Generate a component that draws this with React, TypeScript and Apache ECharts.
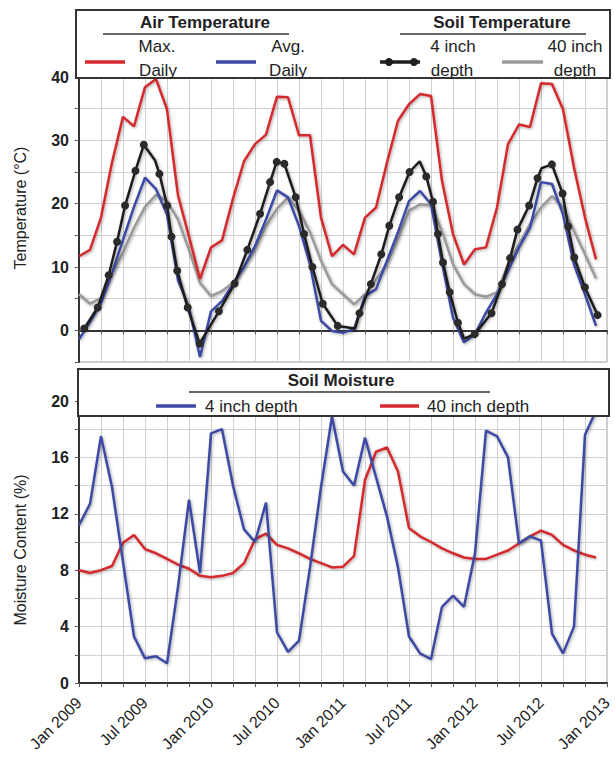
import React, { useEffect, useRef } from "react";
import * as echarts from "echarts";

// Months since Jan 2009 (0 = Jan 2009, 48 = Jan 2013)
const monthIndex: number[] = Array.from({ length: 48 }, (_, i) => i);
const tickLabels: string[] = [
  "Jan 2009", "Jul 2009", "Jan 2010", "Jul 2010", "Jan 2011",
  "Jul 2011", "Jan 2012", "Jul 2012", "Jan 2013",
];

// Air temperature, monthly (°C)
const airMaxDaily: number[] = [
  11.7, 12.7, 17.8, 26.5, 33.7, 32.2, 38.4, 39.7, 34.9, 21.3, 14.8, 8.1,
  13.1, 14.2, 20.8, 26.7, 29.4, 30.9, 36.9, 36.8, 30.8, 30.8, 17.8, 11.7,
  13.5, 12.0, 17.8, 19.4, 26.5, 33.1, 35.7, 37.3, 37.0, 23.6, 15.2, 10.4,
  12.8, 13.1, 19.4, 29.4, 32.5, 32.1, 39.0, 38.9, 34.9, 25.7, 17.8, 11.2,
];
const airAvgDaily: number[] = [
  -1.4, 1.3, 4.3, 9.0, 14.3, 19.5, 24.1, 22.3, 18.3, 7.9, 3.6, -4.2,
  3.0, 4.6, 7.3, 10.0, 13.3, 17.5, 22.1, 21.0, 16.5, 10.4, 1.5, -0.1,
  -0.4, 0.2, 5.4, 6.5, 11.0, 15.5, 20.4, 22.0, 19.9, 10.7, 2.0, -1.9,
  -0.6, 2.8, 5.7, 9.4, 13.1, 16.2, 23.4, 23.1, 18.3, 10.4, 5.7, 0.7,
];
// Soil temperature 40 inch depth, monthly (°C)
const soil40Temp: number[] = [
  5.7, 4.2, 5.1, 8.9, 12.3, 16.2, 19.5, 21.4, 20.4, 17.5, 12.7, 7.5,
  5.4, 6.2, 7.5, 10.0, 12.8, 16.5, 19.2, 21.0, 18.9, 15.5, 11.0, 7.3,
  5.7, 4.1, 5.7, 8.0, 10.5, 14.5, 18.9, 19.9, 19.7, 15.7, 10.4, 7.3,
  5.7, 5.3, 6.0, 10.4, 13.6, 16.8, 19.4, 21.2, 19.4, 15.7, 12.0, 8.2,
];
// Soil temperature 4 inch depth, irregular measurement dates
const soil4Months: number[] = [
  0.48, 1.7, 2.7, 3.46, 4.19, 5.13, 5.89, 6.92, 7.31, 8.01, 8.41, 8.93, 9.88,
  10.96, 12.72, 14.15, 15.3, 16.46, 17.37, 17.97, 18.67, 19.7, 20.46, 21.22,
  22.16, 23.52, 25.1, 25.5, 26.53, 27.48, 28.21, 29.1, 30.05, 30.97, 31.57,
  32.18, 32.63, 33.09, 33.7, 34.45, 35.0, 35.97, 37.5, 38.46, 39.19, 39.86,
  40.92, 41.68, 42.05, 42.99, 43.96, 44.47, 45.02, 45.99, 47.15,
];
const soil4Temp: number[] = [
  0.3, 3.6, 8.7, 14.0, 19.7, 25.2, 29.3, 26.8, 24.7, 19.7, 14.8, 9.4, 3.6,
  -2.1, 3.0, 7.4, 12.7, 18.4, 23.4, 26.6, 26.3, 21.0, 15.2, 10.0,
  4.2, 0.7, 0.3, 2.7, 7.3, 12.0, 16.5, 21.0, 25.0, 26.7, 24.3,
  20.3, 15.2, 10.7, 6.0, 1.2, -1.3, -0.6, 2.7, 7.3, 11.4, 15.9,
  19.7, 24.0, 25.6, 26.2, 21.6, 16.4, 11.5, 6.8, 2.4,
];
const soil4Dot: boolean[] = soil4Months.map(
  (m) => ![6.92, 25.1, 30.97, 35.0, 42.05].includes(m)
);

// Soil moisture, monthly (%)
const moisture4: number[] = [
  11.2, 12.7, 17.5, 13.9, 8.6, 3.3, 1.75, 1.9, 1.4, 6.8, 13.0, 7.8,
  17.7, 18.0, 14.0, 10.9, 10.0, 12.8, 3.6, 2.2, 3.0, 8.2, 13.9, 18.9,
  15.0, 14.0, 17.4, 14.6, 11.8, 8.2, 3.3, 2.1, 1.7, 5.4, 6.2, 5.4,
  9.2, 17.9, 17.5, 16.0, 9.9, 10.4, 10.1, 3.5, 2.1, 4.0, 17.6, 19.3,
];
const moisture40: number[] = [
  8.0, 7.8, 8.0, 8.3, 9.95, 10.5, 9.5, 9.2, 8.8, 8.4, 8.1, 7.6,
  7.5, 7.6, 7.8, 8.5, 10.2, 10.6, 9.8, 9.55, 9.2, 8.8, 8.5, 8.2,
  8.25, 9.0, 14.4, 16.4, 16.7, 15.0, 11.0, 10.4, 10.0, 9.55, 9.2, 8.9,
  8.8, 8.8, 9.1, 9.4, 9.9, 10.4, 10.8, 10.5, 9.8, 9.4, 9.1, 8.9,
];

const RED = "#d42a2f";
const BLUE = "#3d4aa3";
const BLACK = "#1e1e1e";
const GRAY = "#9a9a9a";
const FONT = "'Liberation Sans', Arial, Helvetica, sans-serif";
const TXT = "#222";
const TOPZ = 1000;

const shadow = {
  shadowColor: "rgba(0,0,0,0.35)",
  shadowBlur: 3,
  shadowOffsetX: 1,
  shadowOffsetY: 1,
};

export default function App() {
  const ref = useRef<HTMLDivElement>(null);
  useEffect(() => {
    if (!ref.current) return;
    const chart = echarts.init(ref.current, undefined, { renderer: "svg" });

    const monthly = (vals: number[]) => monthIndex.map((m, i) => [m, vals[i]]);
    const soil4Data = soil4Months.map((m, i) => ({
      value: [m, soil4Temp[i]],
      symbol: soil4Dot[i] ? "circle" : "none",
    }));

    const xAxisBase = (gridIndex: number, showLabels: boolean) => ({
      type: "value",
      gridIndex,
      min: 0,
      max: 48,
      interval: 2,
      axisLine: { show: true, lineStyle: { color: "#333", width: 2 } },
      axisTick: { show: true, length: 4, lineStyle: { color: "#555" } },
      splitLine: { show: true, lineStyle: { color: "#d0d0d0", width: 1 } },
      axisLabel: {
        show: showLabels,
        rotate: 45,
        margin: 17,
        fontSize: 16,
        color: TXT,
        fontFamily: FONT,
        formatter: (v: number) => (v % 6 === 0 ? tickLabels[v / 6] : ""),
      },
    });

    const yText = { fontSize: 16, fontWeight: "bold", color: TXT, fontFamily: FONT };

    const lineItem = (x1: number, x2: number, y: number, color: string) => ({
      type: "line",
      z: TOPZ + 1,
      shape: { x1, y1: y, x2, y2: y },
      style: { stroke: color, lineWidth: 3.5 },
    });
    const hr = (x1: number, x2: number, y: number) => ({
      type: "line",
      z: TOPZ + 1,
      shape: { x1, y1: y, x2, y2: y },
      style: { stroke: "#333", lineWidth: 1.5 },
    });
    const txt = (
      text: string,
      x: number,
      y: number,
      opts: { bold?: boolean; align?: string; size?: number; rotation?: number } = {}
    ) => ({
      type: "text",
      z: TOPZ + 2,
      x,
      y,
      rotation: opts.rotation || 0,
      style: {
        text,
        fill: TXT,
        font: `${opts.bold ? "bold " : ""}${opts.size || 17}px ${FONT}`,
        align: opts.align || "center",
        verticalAlign: "middle",
      },
    });
    const dot = (cx: number, cy: number) => ({
      type: "circle",
      z: TOPZ + 2,
      shape: { cx, cy, r: 4 },
      style: { fill: BLACK },
    });
    const box = (x: number, y: number, width: number, height: number) => ({
      type: "rect",
      z: TOPZ,
      shape: { x, y, width, height },
      style: { fill: "#fff", stroke: "#333", lineWidth: 2 },
    });

    chart.setOption({
      animation: false,
      backgroundColor: "#fff",
      grid: [
        { left: 79, top: 77, width: 528, height: 285, show: true, borderColor: "#999", borderWidth: 1 },
        { left: 79, top: 401, width: 528, height: 282, show: true, borderColor: "#999", borderWidth: 1 },
      ],
      xAxis: [xAxisBase(0, false), xAxisBase(1, true)],
      yAxis: [
        {
          type: "value",
          gridIndex: 0,
          min: -5,
          max: 40,
          interval: 5,
          axisLine: { show: true, lineStyle: { color: "#333", width: 2 } },
          axisTick: { show: true, length: 4, lineStyle: { color: "#555" } },
          splitLine: { show: true, lineStyle: { color: "#d0d0d0", width: 1 } },
          axisLabel: {
            ...yText,
            margin: 10,
            formatter: (v: number) => (v % 10 === 0 ? String(v) : ""),
          },
        },
        {
          type: "value",
          gridIndex: 1,
          min: 0,
          max: 20,
          interval: 2,
          axisLine: { show: true, lineStyle: { color: "#333", width: 2 } },
          axisTick: { show: true, length: 4, lineStyle: { color: "#555" } },
          splitLine: { show: true, lineStyle: { color: "#d0d0d0", width: 1 } },
          axisLabel: {
            ...yText,
            margin: 10,
            formatter: (v: number) => (v % 4 === 0 ? String(v) : ""),
          },
        },
      ],
      series: [
        {
          name: "Soil 40 inch",
          type: "line",
          xAxisIndex: 0,
          yAxisIndex: 0,
          data: monthly(soil40Temp),
          showSymbol: false,
          lineStyle: { color: GRAY, width: 2.5, ...shadow },
          itemStyle: { color: GRAY },
        },
        {
          name: "Max. Daily",
          type: "line",
          xAxisIndex: 0,
          yAxisIndex: 0,
          data: monthly(airMaxDaily),
          showSymbol: false,
          lineStyle: { color: RED, width: 2.5, ...shadow },
          itemStyle: { color: RED },
        },
        {
          name: "Avg. Daily",
          type: "line",
          xAxisIndex: 0,
          yAxisIndex: 0,
          data: monthly(airAvgDaily),
          showSymbol: false,
          lineStyle: { color: BLUE, width: 2.5, ...shadow },
          itemStyle: { color: BLUE },
        },
        {
          name: "Soil 4 inch",
          type: "line",
          xAxisIndex: 0,
          yAxisIndex: 0,
          data: soil4Data,
          symbolSize: 8,
          lineStyle: { color: BLACK, width: 2.5, ...shadow },
          itemStyle: { color: "#2a2a2a", borderWidth: 0 },
        },
        {
          name: "Moisture 40 inch",
          type: "line",
          xAxisIndex: 1,
          yAxisIndex: 1,
          data: monthly(moisture40),
          showSymbol: false,
          lineStyle: { color: RED, width: 2.5, ...shadow },
          itemStyle: { color: RED },
        },
        {
          name: "Moisture 4 inch",
          type: "line",
          xAxisIndex: 1,
          yAxisIndex: 1,
          data: monthly(moisture4),
          showSymbol: false,
          lineStyle: { color: BLUE, width: 2.5, ...shadow },
          itemStyle: { color: BLUE },
        },
      ],
      graphic: [
        // top legend box
        box(76, 10, 534, 68),
        txt("Air Temperature", 205, 22, { bold: true }),
        hr(103, 289, 34),
        txt("Soil Temperature", 502, 22, { bold: true }),
        hr(400, 586, 34),
        lineItem(85, 125, 62, RED),
        txt("Max.", 157, 46),
        txt("Daily", 158, 70),
        lineItem(216, 256, 62, BLUE),
        txt("Avg.", 288, 46),
        txt("Daily", 288, 70),
        lineItem(380, 420, 62, BLACK),
        dot(389, 62),
        dot(414, 62),
        txt("4 inch", 453, 46),
        txt("depth", 452, 70),
        lineItem(502, 543, 62, GRAY),
        txt("40 inch", 575, 46),
        txt("depth", 575, 70),

        // bottom legend box
        box(78, 369, 531, 47),
        txt("Soil Moisture", 341, 380, { bold: true }),
        hr(189, 490, 392),
        lineItem(156, 196, 406, BLUE),
        txt("4 inch depth", 205, 406, { align: "left" }),
        lineItem(380, 419, 406, RED),
        txt("40 inch depth", 427, 406, { align: "left" }),

        // axis names
        txt("Temperature (°C)", 20, 208, { size: 16, rotation: Math.PI / 2 }),
        txt("Moisture Content (%)", 20, 550, { size: 16, rotation: Math.PI / 2 }),
      ],
    });
    return () => chart.dispose();
  }, []);

  return (
    <div
      ref={ref}
      style={{ position: "fixed", left: 0, top: 0, width: 615, height: 760 }}
    />
  );
}
